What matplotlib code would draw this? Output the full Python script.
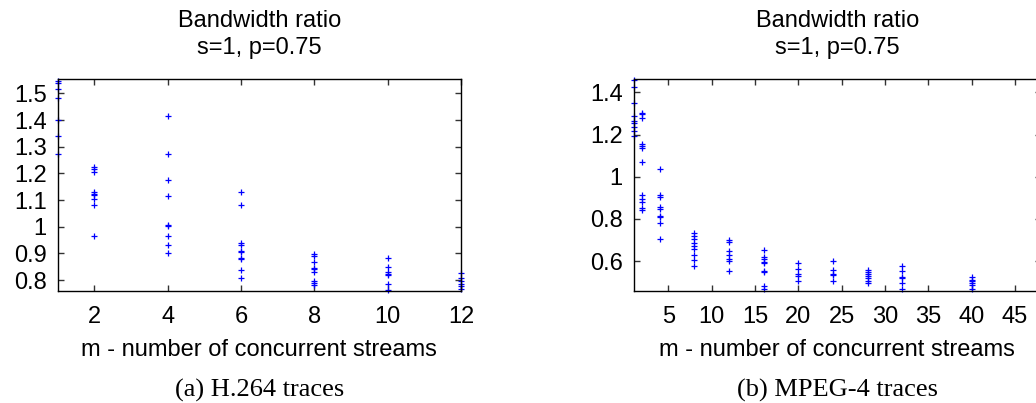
import matplotlib
matplotlib.use("Agg")
import matplotlib.pyplot as plt

# ---- H.264 data (left panel) ----
h264_m = [1, 2, 4, 6, 8, 10, 12]
h264_ratio = [
    [1.547, 1.540, 1.516, 1.481, 1.400, 1.339, 1.271],
    [1.225, 1.216, 1.207, 1.129, 1.124, 1.120, 1.103, 1.082, 0.965],
    [1.414, 1.272, 1.175, 1.116, 1.006, 1.001, 0.965, 0.931, 0.902],
    [1.129, 1.080, 0.940, 0.931, 0.908, 0.905, 0.881, 0.878, 0.836, 0.809],
    [0.899, 0.891, 0.867, 0.846, 0.841, 0.830, 0.796, 0.790, 0.780],
    [0.882, 0.850, 0.830, 0.824, 0.818, 0.784, 0.762],
    [0.826, 0.806, 0.796, 0.786, 0.776, 0.767],
]

# ---- MPEG-4 data (right panel) ----
mpeg4_m = [1, 2, 4, 8, 12, 16, 20, 24, 28, 32, 40, 48]
mpeg4_ratio = [
    [1.458, 1.424, 1.348, 1.288, 1.266, 1.256, 1.237, 1.218, 1.193],
    [1.303, 1.296, 1.280, 1.155, 1.144, 1.135, 1.071, 0.914, 0.893, 0.879, 0.851, 0.841],
    [1.035, 0.912, 0.906, 0.856, 0.846, 0.814, 0.808, 0.781, 0.706],
    [0.734, 0.721, 0.706, 0.688, 0.673, 0.657, 0.628, 0.606, 0.578],
    [0.699, 0.693, 0.647, 0.630, 0.608, 0.603, 0.553],
    [0.653, 0.622, 0.612, 0.595, 0.590, 0.553, 0.549, 0.480, 0.467],
    [0.590, 0.562, 0.538, 0.532, 0.505],
    [0.600, 0.557, 0.541, 0.535, 0.507],
    [0.560, 0.551, 0.538, 0.529, 0.518, 0.505, 0.496],
    [0.575, 0.554, 0.524, 0.518, 0.496, 0.467],
    [0.524, 0.513, 0.505, 0.496, 0.486, 0.470],
    [0.510, 0.500, 0.490],
]

title_text = "Bandwidth ratio\ns=1, p=0.75"
xlabel_text = "m - number of concurrent streams"
captions = ["(a) H.264 traces", "(b) MPEG-4 traces"]

left_yticks = [0.8, 0.9, 1.0, 1.1, 1.2, 1.3, 1.4, 1.5]
left_yticklabels = ["0.8", "0.9", "1", "1.1", "1.2", "1.3", "1.4", "1.5"]
left_xticks = [2, 4, 6, 8, 10, 12]
right_yticks = [0.6, 0.8, 1.0, 1.2, 1.4]
right_yticklabels = ["0.6", "0.8", "1", "1.2", "1.4"]
right_xticks = [5, 10, 15, 20, 25, 30, 35, 40, 45]

plt.rcParams['font.family'] = ['Liberation Sans', 'DejaVu Sans']

fig = plt.figure(figsize=(10.36, 4.03), dpi=100)
W, H = 1036.0, 403.0

def make_ax(x0, x1, y0, y1):
    return fig.add_axes([x0 / W, 1 - y1 / H, (x1 - x0) / W, (y1 - y0) / H])

axL = make_ax(57.7, 461.0, 79.3, 290.7)
axR = make_ax(633.7, 1041.0, 79.3, 290.7)

def style(ax, xs, groups, xlim, ylim, xticks, yticks, yticklabels, caption):
    for m, vals in zip(xs, groups):
        ax.plot([m] * len(vals), vals, linestyle='none', marker='+',
                color='#0000ff', markersize=5, markeredgewidth=0.9, clip_on=False)
    ax.set_xlim(*xlim)
    ax.set_ylim(*ylim)
    ax.set_xticks(xticks)
    ax.set_xticklabels([str(t) for t in xticks])
    ax.set_yticks(yticks)
    ax.set_yticklabels(yticklabels)
    ax.tick_params(direction='in', top=True, right=True, length=4, width=1,
                   labelsize=17, color='#333333')
    ax.tick_params(axis='x', pad=11)
    ax.tick_params(axis='y', pad=8)
    for s in ax.spines.values():
        s.set_linewidth(1.0)
    ax.set_title(title_text, fontsize=17, pad=18, linespacing=1.3)
    ax.set_xlabel(xlabel_text, fontsize=17, labelpad=8)
    ax.text(0.5, -0.47, caption, transform=ax.transAxes, ha='center', va='center',
            fontsize=19, family=['Liberation Serif', 'DejaVu Serif'])

style(axL, h264_m, h264_ratio, (1, 12), (0.76, 1.553), left_xticks,
      left_yticks, left_yticklabels, captions[0])
style(axR, mpeg4_m, mpeg4_ratio, (1, 48), (0.46, 1.462), right_xticks,
      right_yticks, right_yticklabels, captions[1])

fig.savefig("out.png", dpi=100)
